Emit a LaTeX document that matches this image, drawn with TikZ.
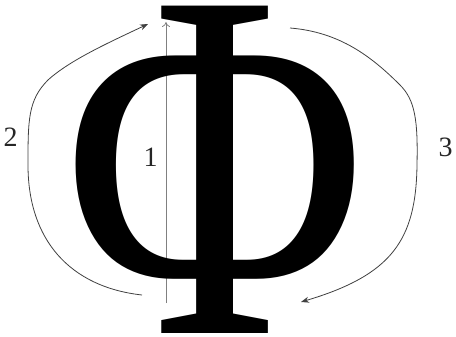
\documentclass[tikz,border=0pt]{standalone}
\usepackage{fontspec}
\setmainfont{Liberation Serif}
\usetikzlibrary{arrows.meta}
\begin{document}
\begin{tikzpicture}[x=1pt,y=-1pt,
  flow/.style={draw=black!75, line width=0.8pt, -{Stealth[length=8pt,width=6pt]}},
  axisarrow/.style={draw=black!50, line width=0.8pt, -{To[length=5pt,width=8pt]}},
  lbl/.style={font=\fontsize{28}{30}\selectfont, inner sep=0pt, text=black!85}]
\useasboundingbox (0,0) rectangle (456,337);
% arrow 1
\coordinate (a1s) at (166,303);
\coordinate (a1e) at (166,22);
\draw[axisarrow] (a1s) -- (a1e);
% big Phi
\node[inner sep=0pt, anchor=base, font=\fontsize{500}{500}\selectfont] (phi) at (215.5,333) {\scalebox{0.83}[1]{Φ}};
% arrow 2
\coordinate (a2s) at (142,295);
\coordinate (a2e) at (148,24);
\draw[flow] (a2s) .. controls (70,287) and (28,240) .. (28,165)
  .. controls (28,120) and (28,100) .. (48,80)
  .. controls (70,60) and (110,42) .. (a2e);
% arrow 3
\coordinate (a3s) at (290,28);
\coordinate (a3e) at (301,302);
\draw[flow] (a3s) .. controls (340,32) and (372,57) .. (400,85)
  .. controls (415,100) and (418,120) .. (417,165)
  .. controls (416,240) and (392,275) .. (a3e);
% labels
\node[lbl] (l1) at (150.5,157) {1};
\node[lbl] (l2) at (10.5,137.5) {2};
\node[lbl] (l3) at (445.5,147) {3};
\end{tikzpicture}
\end{document}
